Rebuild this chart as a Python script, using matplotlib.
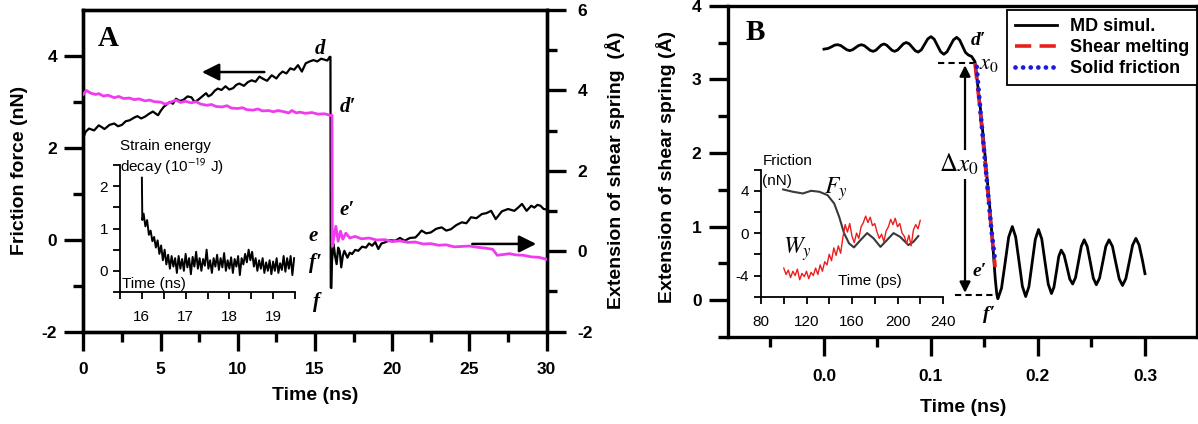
import matplotlib
matplotlib.use("Agg")
import matplotlib.pyplot as plt
from matplotlib.ticker import MultipleLocator, FormatStrFormatter, FixedLocator

plt.rcParams['font.family'] = ['Liberation Sans', 'DejaVu Sans']
plt.rcParams['mathtext.fontset'] = 'stix'
plt.rcParams['axes.unicode_minus'] = False

# ---------------- Panel A data ----------------
tA_friction = [0.0, 0.15, 0.37, 0.7, 1.0, 1.2, 1.37, 1.7, 2.0, 2.25,
               2.5, 2.75, 3.0, 3.3, 3.5, 3.75, 4.0, 4.25, 4.5, 4.84,
               5.0, 5.2, 5.6, 5.8, 6.0, 6.25, 6.5, 6.75, 7.0, 7.2,
               7.45, 7.7, 7.95, 8.1, 8.3, 8.5, 8.7, 8.95, 9.2, 9.45,
               9.7, 9.9, 10.1, 10.4, 10.65, 10.9, 11.15, 11.4, 11.65, 11.9,
               12.2, 12.5, 12.7, 12.9, 13.15, 13.4, 13.65, 13.9, 14.15, 14.4,
               14.65, 14.9, 15.15, 15.4, 15.6, 15.8, 15.95, 16.0, 16.02, 16.06,
               16.1, 16.2, 16.3, 16.4, 16.5, 16.6, 16.7, 16.8, 16.9, 17.1,
               17.25, 17.4, 17.6, 17.8, 18.05, 18.3, 18.5, 18.7, 18.9, 19.1,
               19.3, 19.5, 19.85, 20.2, 20.5, 20.8, 21.15, 21.5, 21.7, 21.9,
               22.2, 22.5, 22.85, 23.2, 23.5, 23.8, 24.15, 24.5, 24.8, 25.1,
               25.45, 25.8, 26.1, 26.4, 26.7, 27.1, 27.5, 27.9, 28.15, 28.4,
               28.7, 29.0, 29.2, 29.4, 29.6, 29.8, 30.0]
friction_nN = [2.22, 2.35, 2.42, 2.38, 2.49, 2.45, 2.41, 2.50, 2.53, 2.47,
               2.50, 2.58, 2.60, 2.66, 2.69, 2.64, 2.68, 2.74, 2.79, 2.71,
               2.80, 2.89, 3.00, 2.96, 3.07, 3.02, 3.05, 3.12, 3.10, 3.00,
               3.05, 3.12, 3.19, 3.12, 3.16, 3.24, 3.29, 3.26, 3.34, 3.27,
               3.30, 3.37, 3.40, 3.35, 3.43, 3.47, 3.44, 3.55, 3.50, 3.46,
               3.58, 3.51, 3.60, 3.66, 3.62, 3.73, 3.70, 3.80, 3.66, 3.84,
               3.88, 3.91, 3.88, 3.94, 3.92, 3.90, 3.98, 3.98, -1.04, -1.05,
               -0.46, -0.09, -0.35, -0.53, -0.17, -0.25, -0.60, -0.35, -0.24, -0.39,
               -0.28, -0.31, -0.22, -0.24, -0.15, -0.17, -0.08, -0.13, -0.05, -0.20,
               -0.08, -0.06, -0.01, -0.02, 0.04, -0.02, 0.04, 0.05, 0.12, 0.20,
               0.14, 0.16, 0.24, 0.27, 0.20, 0.23, 0.32, 0.38, 0.36, 0.49,
               0.47, 0.56, 0.58, 0.63, 0.45, 0.62, 0.67, 0.63, 0.70, 0.78,
               0.63, 0.74, 0.70, 0.76, 0.74, 0.67, 0.66]

tA_ext = [0.0, 0.2, 0.5, 0.8, 1.0, 1.3, 1.6, 2.0, 2.3, 2.6,
          3.0, 3.3, 3.6, 4.0, 4.3, 4.6, 5.0, 5.3, 5.6, 6.0,
          6.3, 6.6, 7.0, 7.3, 7.6, 8.0, 8.3, 8.6, 9.0, 9.3,
          9.6, 10.0, 10.3, 10.6, 11.0, 11.3, 11.6, 12.0, 12.3, 12.6,
          13.0, 13.3, 13.5, 13.8, 14.0, 14.4, 14.8, 15.2, 15.6, 16.0,
          16.1, 16.12, 16.2, 16.35, 16.5, 16.65, 16.8, 17.0, 17.25, 17.6,
          18.0, 18.5, 19.0, 19.5, 20.0, 20.5, 21.0, 21.5, 22.0, 22.5,
          23.0, 23.5, 24.0, 24.5, 25.0, 25.5, 26.0, 26.5, 26.8, 27.2,
          27.6, 28.0, 28.5, 29.0, 29.5, 30.0]
extension_A = [3.90, 4.00, 3.93, 3.90, 3.92, 3.86, 3.88, 3.82, 3.85, 3.80,
               3.81, 3.77, 3.79, 3.74, 3.76, 3.72, 3.71, 3.66, 3.70, 3.76,
               3.70, 3.73, 3.69, 3.72, 3.66, 3.63, 3.65, 3.60, 3.59, 3.62,
               3.56, 3.55, 3.57, 3.52, 3.51, 3.54, 3.49, 3.50, 3.47, 3.50,
               3.47, 3.44, 3.50, 3.44, 3.46, 3.43, 3.45, 3.41, 3.42, 3.38,
               3.38, 0.12, 0.30, 0.62, 0.25, 0.50, 0.30, 0.45, 0.33, 0.37,
               0.31, 0.33, 0.28, 0.29, 0.24, 0.26, 0.22, 0.23, 0.18, 0.19,
               0.15, 0.16, 0.11, 0.12, 0.13, 0.10, 0.08, 0.05, -0.10, -0.08,
               -0.06, -0.09, -0.10, -0.14, -0.15, -0.20]

# inset A: strain energy decay
tE = [16.00, 16.01, 16.04, 16.08, 16.12, 16.16, 16.20, 16.24, 16.28, 16.32,
      16.36, 16.40, 16.44, 16.48, 16.52, 16.56, 16.60, 16.64, 16.68, 16.72,
      16.76, 16.80, 16.84, 16.88, 16.92, 16.96, 17.00, 17.04, 17.08, 17.12,
      17.16, 17.20, 17.24, 17.28, 17.32, 17.36, 17.40, 17.44, 17.48, 17.52,
      17.56, 17.60, 17.64, 17.68, 17.72, 17.76, 17.80, 17.84, 17.88, 17.92,
      17.96, 18.00, 18.04, 18.08, 18.12, 18.16, 18.20, 18.24, 18.28, 18.32,
      18.36, 18.40, 18.44, 18.48, 18.52, 18.56, 18.60, 18.64, 18.68, 18.72,
      18.76, 18.80, 18.84, 18.88, 18.92, 18.96, 19.00, 19.04, 19.08, 19.12,
      19.16, 19.20, 19.24, 19.28, 19.32, 19.36, 19.40, 19.44, 19.48]
energy = [2.20, 1.20, 1.35, 1.05, 1.20, 0.85, 0.95, 0.70, 0.80, 0.55,
          0.72, 0.40, 0.60, 0.25, 0.50, 0.15, 0.38, 0.05, 0.35, 0.10,
          0.30, -0.05, 0.35, 0.05, 0.28, 0.00, 0.40, 0.08, 0.30, -0.08,
          0.33, 0.10, 0.45, 0.05, 0.30, 0.00, 0.28, 0.12, 0.50, 0.05,
          0.25, -0.05, 0.30, 0.10, 0.38, 0.02, 0.30, 0.08, 0.42, 0.00,
          0.25, 0.05, 0.32, -0.05, 0.28, 0.10, 0.35, -0.10, 0.30, 0.15,
          0.40, 0.20, 0.50, 0.25, 0.45, 0.10, 0.30, 0.00, 0.25, 0.05,
          0.30, -0.05, 0.20, 0.00, 0.25, -0.08, 0.22, 0.00, 0.30, -0.05,
          0.18, 0.02, 0.35, -0.02, 0.30, 0.05, 0.35, -0.10, 0.30]

# ---------------- Panel B data ----------------
tB_md = [0.000, 0.004, 0.0075, 0.010, 0.013, 0.01575, 0.0185, 0.02125, 0.024,
         0.02675, 0.0295, 0.03225, 0.035, 0.03775, 0.0405, 0.04325, 0.046,
         0.0485, 0.051, 0.0535, 0.056, 0.0585, 0.061, 0.0635, 0.066,
         0.06875, 0.0715, 0.07425, 0.077, 0.07975, 0.0825, 0.08525, 0.088,
         0.091, 0.094, 0.097, 0.100, 0.103, 0.106, 0.109, 0.112,
         0.115, 0.118, 0.121, 0.124, 0.12675, 0.1295, 0.13225, 0.135,
         0.138, 0.1411, 0.1455, 0.150, 0.155, 0.158, 0.160, 0.1615, 0.1625,
         0.1659, 0.1693, 0.1726, 0.176, 0.1791, 0.1823, 0.1854, 0.1885,
         0.1915, 0.1945, 0.1975, 0.2005, 0.2035, 0.2065, 0.2096, 0.2126,
         0.2149, 0.2172, 0.2194, 0.2217, 0.2244, 0.2271, 0.2297, 0.2324,
         0.2351, 0.2378, 0.2405, 0.2432, 0.246, 0.2489, 0.2517, 0.2545,
         0.2575, 0.2605, 0.2634, 0.2664, 0.2696, 0.2727, 0.2759, 0.279,
         0.2821, 0.2853, 0.2884, 0.2915, 0.2945, 0.2975, 0.300]
md_simul = [3.41, 3.42, 3.445, 3.465, 3.47, 3.458, 3.43, 3.402, 3.39,
            3.402, 3.43, 3.458, 3.47, 3.457, 3.425, 3.393, 3.38,
            3.395, 3.43, 3.465, 3.48, 3.465, 3.43, 3.395, 3.38,
            3.398, 3.44, 3.483, 3.50, 3.481, 3.435, 3.389, 3.37,
            3.401, 3.475, 3.549, 3.58, 3.545, 3.46, 3.375, 3.34,
            3.374, 3.455, 3.536, 3.57, 3.535, 3.45, 3.365, 3.33,
            3.31, 3.24, 2.70, 2.05, 1.25, 0.70, 0.30, 0.08, 0.02,
            0.163, 0.51, 0.857, 1.00, 0.861, 0.525, 0.189, 0.05,
            0.183, 0.505, 0.827, 0.96, 0.833, 0.525, 0.217, 0.09,
            0.176, 0.385, 0.594, 0.68, 0.613, 0.45, 0.287, 0.22,
            0.308, 0.52, 0.732, 0.82, 0.731, 0.515, 0.299, 0.21,
            0.299, 0.515, 0.731, 0.82, 0.73, 0.51, 0.29, 0.20,
            0.293, 0.52, 0.747, 0.84, 0.75, 0.55, 0.36]

tB_melt = [0.1411, 0.1458, 0.1520, 0.1567, 0.1600]
shear_melting = [3.22, 2.60, 1.64, 0.91, 0.45]
tB_solid = [0.1427, 0.1460, 0.1520, 0.1565, 0.1598]
solid_friction = [3.17, 2.60, 1.66, 0.95, 0.55]

# inset B
tF = [99.4, 108, 116.8, 124, 131.3, 138.5, 144.3, 148.7, 153, 157.4,
      161.7, 167.5, 173.3, 179, 185, 190.7, 196.5, 202.3, 209.6, 214, 218.3]
F_y = [4.12, 3.9, 3.74, 3.99, 3.9, 3.58, 2.8, 1.54, 0.0, -0.97,
       -1.35, -0.66, 0.0, -0.5, -1.3, -0.66, 0.0, -0.35, -1.13, -0.82, -0.28]
tW = [100, 102, 104, 106, 108, 110, 112, 114, 116, 118,
      120, 122, 124, 126, 128, 130, 132, 134, 136, 138,
      140, 142, 144, 146, 148, 150, 152, 154, 156, 158,
      160, 162, 164, 166, 168, 170, 172, 174, 176, 178,
      180, 182, 184, 186, 188, 190, 192, 194, 196, 198,
      200, 202, 204, 206, 208, 210, 212, 214, 216, 218, 220]
W_y = [-3.3, -3.9, -3.5, -4.2, -3.6, -4.0, -3.4, -4.4, -3.8, -4.1,
       -3.6, -4.3, -3.7, -4.0, -3.3, -3.9, -3.0, -3.6, -2.7, -3.0,
       -2.0, -2.6, -1.4, -2.1, -1.2, -1.9, -0.4, 0.8, 0.1, 0.9,
       -0.3, -0.9, 0.0, -0.5, 0.6, 1.0, 1.6, 1.0, 1.5, 0.7,
       0.9, 0.1, -0.5, -0.1, -0.8, 0.2, 0.6, 1.3, 0.8, 1.4,
       0.6, 0.9, 0.0, -0.3, -1.0, -0.2, -1.2, 0.3, 0.8, 0.4, 1.2]

# ---------------- figure ----------------
W, H = 1198, 424
fig = plt.figure(figsize=(W / 100, H / 100), dpi=100)


def box(l, t, r, b):
    return [l / W, 1 - b / H, (r - l) / W, (b - t) / H]


SPW = 2.4
axA = fig.add_axes(box(83.3, 10, 546.7, 331.7))
axA2 = axA.twinx()
axB = fig.add_axes(box(728, 5.7, 1197, 337))
insA = fig.add_axes(box(120, 165, 295, 292))
insB = fig.add_axes(box(761, 169.5, 943, 296.7))

for ax in (axA, axA2, axB):
    for s in ax.spines.values():
        s.set_linewidth(SPW)

# Panel A main
axA.plot(tA_friction, friction_nN, color='black', lw=1.6, zorder=3)
axA2.plot(tA_ext, extension_A, color='#f03cf0', lw=2.0, zorder=3)
axA.set_xlim(0, 30)
axA.set_ylim(-2, 5)
axA2.set_ylim(-2, 6)
axA.xaxis.set_major_locator(MultipleLocator(5))
axA.xaxis.set_minor_locator(MultipleLocator(2.5))
axA.yaxis.set_major_locator(FixedLocator([-2, 0, 2, 4]))
axA.yaxis.set_minor_locator(FixedLocator([-1, 1, 3]))
axA2.yaxis.set_major_locator(MultipleLocator(2))
axA2.yaxis.set_minor_locator(MultipleLocator(1))
axA.tick_params(which='both', direction='out', width=SPW, labelsize=12.5)
axA.tick_params(which='major', length=14)
axA.tick_params(which='minor', length=7)
axA.tick_params(axis='x', pad=8)
axA.tick_params(axis='y', pad=5)
axA2.tick_params(which='both', direction='out', width=SPW, labelsize=12.5, pad=8)
axA2.tick_params(which='major', length=14)
axA2.tick_params(which='minor', length=7)
for a in (axA, axA2):
    plt.setp(a.get_xticklabels() + a.get_yticklabels(), fontweight='bold')

fig.text(20 / W, 1 - 170 / H, 'Friction force (nN)', rotation=90, ha='center', va='center',
         fontsize=14, fontweight='bold')
fig.text(315 / W, 1 - 395 / H, 'Time (ns)', ha='center', va='center', fontsize=14, fontweight='bold')
fig.text(615 / W, 1 - 170 / H, 'Extension of shear spring  (Å)', rotation=90, ha='center',
         va='center', fontsize=14, fontweight='bold')
fig.text(108 / W, 1 - 39 / H, 'A', ha='center', va='center', fontsize=21, fontweight='bold',
         family=['Liberation Serif', 'DejaVu Serif'])

serif_bi = dict(family=['Liberation Serif', 'DejaVu Serif'], style='italic', fontweight='bold',
                fontsize=15, ha='center', va='center')
for txt, x, y in [('d', 15.3, 4.15), ('d\u2032', 17.1, 2.89), ('e\u2032', 17.05, 0.64),
                  ('e', 14.9, 0.09), ('f\u2032', 15.0, -0.5), ('f', 15.1, -1.35)]:
    axA.text(x, y, txt, **serif_bi)

arrow_kw = dict(arrowstyle='-|>', lw=1.8, color='black', mutation_scale=26)
axA.annotate('', xy=(7.5, 3.65), xytext=(11.9, 3.65), arrowprops=arrow_kw)
axA.annotate('', xy=(29.5, -0.09), xytext=(25.0, -0.09), arrowprops=arrow_kw)

# inset A
insA.patch.set_alpha(0)
insA.plot(tE, energy, color='black', lw=1.4)
insA.set_xlim(15.5, 19.5)
insA.set_ylim(-0.5, 2.5)
for s in ('top', 'right'):
    insA.spines[s].set_visible(False)
for s in ('left', 'bottom'):
    insA.spines[s].set_linewidth(1.3)
insA.xaxis.set_major_locator(MultipleLocator(1))
insA.xaxis.set_minor_locator(MultipleLocator(0.5))
insA.yaxis.set_major_locator(MultipleLocator(1))
insA.yaxis.set_minor_locator(MultipleLocator(0.5))
insA.tick_params(which='both', direction='out', length=5, width=1.3, labelsize=11)
insA.tick_params(axis='x', pad=8)
fig.text(120 / W, 1 - 146 / H, 'Strain energy', ha='left', va='center', fontsize=11)
fig.text(120 / W, 1 - 167 / H, r'decay (10$^{\mathsf{-19}}$ J)', ha='left', va='center', fontsize=11)
fig.text(122 / W, 1 - 284 / H, 'Time (ns)', ha='left', va='center', fontsize=11)

# Panel B main
l_md, = axB.plot(tB_md, md_simul, color='black', lw=2.0, zorder=3, label='MD simul.')
l_melt, = axB.plot(tB_melt, shear_melting, color='#e8201c', lw=2.6, linestyle=(0, (4.5, 2.3)),
                   zorder=4, label='Shear melting')
l_solid, = axB.plot(tB_solid, solid_friction, color='#1a1adc', lw=3.4, linestyle=(0, (0.01, 1.6)),
                    dash_capstyle='round', zorder=5, label='Solid friction')
axB.set_xlim(-0.0897, 0.3486)
axB.set_ylim(-0.5, 4)
axB.xaxis.set_major_locator(MultipleLocator(0.1))
axB.xaxis.set_minor_locator(MultipleLocator(0.05))
axB.xaxis.set_major_formatter(FormatStrFormatter('%.1f'))
axB.yaxis.set_major_locator(MultipleLocator(1))
axB.yaxis.set_minor_locator(MultipleLocator(0.5))
axB.tick_params(which='both', direction='out', width=SPW, labelsize=12.5)
axB.tick_params(which='major', length=14)
axB.tick_params(which='minor', length=7)
axB.tick_params(axis='x', pad=9)
axB.tick_params(axis='y', pad=5)
plt.setp(axB.get_xticklabels() + axB.get_yticklabels(), fontweight='bold')

fig.text(666 / W, 1 - 167 / H, 'Extension of shear spring (Å)', rotation=90, ha='center',
         va='center', fontsize=14, fontweight='bold')
fig.text(963 / W, 1 - 407 / H, 'Time (ns)', ha='center', va='center', fontsize=14, fontweight='bold')
fig.text(755 / W, 1 - 32 / H, 'B', ha='center', va='center', fontsize=21, fontweight='bold',
         family=['Liberation Serif', 'DejaVu Serif'])

X0_TOP, X0_BOT = 3.22, 0.07
axB.hlines(X0_TOP, 0.107, 0.141, colors='black', linestyles=(0, (3, 2)), lw=1.5)
axB.hlines(X0_BOT, 0.1224, 0.160, colors='black', linestyles=(0, (3, 2)), lw=1.5)
axB.annotate('', xy=(0.1318, 3.19), xytext=(0.1318, 0.10),
             arrowprops=dict(arrowstyle='<|-|>', lw=1.6, color='black', mutation_scale=16,
                             shrinkA=0, shrinkB=0))
axB.text(0.126, 1.84, r'$\Delta x_{\mathit{0}}$', fontsize=18, ha='center', va='center',
         bbox=dict(fc='white', ec='none', pad=1.5), zorder=6)
axB.text(0.1545, 3.22, r'$x_{\mathit{0}}$', fontsize=16, ha='center', va='center', zorder=6)
serif_b = dict(serif_bi)
serif_b['fontsize'] = 14
axB.text(0.1445, 3.53, 'd\u2032', **serif_b)
axB.text(0.1457, 0.39, 'e\u2032', **serif_b)
axB.text(0.154, -0.19, 'f\u2032', **serif_b)

leg = axB.legend(handles=[l_md, l_melt, l_solid], loc='upper right', bbox_to_anchor=(1.0, 0.987),
                 borderaxespad=0, fancybox=False, edgecolor='black', framealpha=1,
                 prop=dict(weight='bold', size=13), handlelength=2.3, handletextpad=0.7,
                 labelspacing=0.22, borderpad=0.45)
leg.get_frame().set_linewidth(1.3)
leg.set_zorder(10)

# inset B
insB.patch.set_alpha(0)
insB.plot(tF, F_y, color='#3a3a3a', lw=1.5)
insB.plot(tW, W_y, color='#ee1c1c', lw=1.0)
insB.set_xlim(80, 240)
insB.set_ylim(-6, 6)
for s in ('top', 'right'):
    insB.spines[s].set_visible(False)
for s in ('left', 'bottom'):
    insB.spines[s].set_linewidth(1.3)
insB.xaxis.set_major_locator(MultipleLocator(40))
insB.xaxis.set_minor_locator(MultipleLocator(20))
insB.yaxis.set_major_locator(MultipleLocator(4))
insB.yaxis.set_minor_locator(MultipleLocator(2))
insB.tick_params(which='both', direction='out', length=5, width=1.3, labelsize=11)
insB.tick_params(axis='x', pad=8)
fig.text(763 / W, 1 - 161 / H, 'Friction', ha='left', va='center', fontsize=11)
fig.text(762 / W, 1 - 181 / H, '(nN)', ha='left', va='center', fontsize=11)
fig.text(836 / W, 1 - 189 / H, r'$F_y$', ha='center', va='center', fontsize=17)
fig.text(797 / W, 1 - 249 / H, r'$W_y$', ha='center', va='center', fontsize=17)
fig.text(870 / W, 1 - 281 / H, 'Time (ps)', ha='center', va='center', fontsize=11)

fig.savefig('out.png', dpi=100)
